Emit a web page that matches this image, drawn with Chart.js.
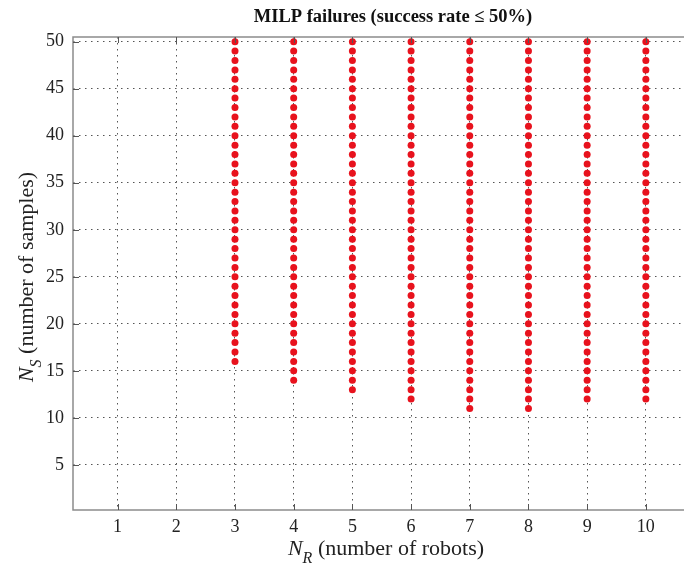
<!DOCTYPE html>
<html>
<head>
<meta charset="utf-8">
<script src="https://cdn.jsdelivr.net/npm/chart.js@4.4.1/dist/chart.umd.min.js"></script>
<style>
  body { margin: 0; background: #fff; overflow: hidden; }
  #wrap { width: 684px; height: 570px; }
</style>
</head>
<body>
<div id="wrap"><canvas id="failChart"></canvas></div>
<script>
// robot counts that have failures, and the smallest sample count that failed for each
const robots = [3, 4, 5, 6, 7, 8, 9, 10];
const minFailSamples = [16, 14, 13, 12, 11, 11, 12, 12];
const maxSamples = 50;
const xTicks = [1, 2, 3, 4, 5, 6, 7, 8, 9, 10];
const yTicks = [5, 10, 15, 20, 25, 30, 35, 40, 45, 50];

// every sample count from the lowest failure up to 50 failed
let points = [];
for (let i = 0; i < robots.length; i++) {
    for (let s = minFailSamples[i]; s <= maxSamples; s++) {
        points.push({ x: robots[i], y: s });
    }
}

const serif = '"Liberation Serif", "Times New Roman", serif';

const framePlugin = {
    id: 'frame',
    afterDraw(chart) {
        const ctx = chart.ctx;
        const a = chart.chartArea;
        const xs = chart.scales.x;
        const ys = chart.scales.y;
        ctx.save();

        // axes box (right side is cut off in the original)
        ctx.strokeStyle = '#8c8c8c';
        ctx.lineWidth = 1.5;
        ctx.beginPath();
        ctx.moveTo(a.right, a.top);
        ctx.lineTo(a.left, a.top);
        ctx.lineTo(a.left, a.bottom);
        ctx.lineTo(a.right, a.bottom);
        ctx.stroke();

        // inward tick marks
        ctx.strokeStyle = '#555';
        ctx.lineWidth = 1;
        ctx.beginPath();
        xTicks.forEach(t => {
            const px = Math.round(xs.getPixelForValue(t)) + 0.5;
            ctx.moveTo(px, a.bottom);
            ctx.lineTo(px, a.bottom - 6);
            ctx.moveTo(px, a.top);
            ctx.lineTo(px, a.top + 6);
        });
        yTicks.forEach(t => {
            const py = Math.round(ys.getPixelForValue(t)) + 0.5;
            ctx.moveTo(a.left, py);
            ctx.lineTo(a.left + 6, py);
        });
        ctx.stroke();

        // title
        ctx.fillStyle = '#111';
        ctx.font = 'bold 18.5px ' + serif;
        ctx.textAlign = 'center';
        ctx.textBaseline = 'middle';
        ctx.fillText('MILP failures (success rate \u2264 50%)', 393, 17);

        // x axis title: N_R (number of robots)
        drawSubLabel(ctx, 'N', 'R', ' (number of robots)', 386, 555);

        // y axis title: N_S (number of samples)
        ctx.save();
        ctx.translate(33, 277);
        ctx.rotate(-Math.PI / 2);
        drawSubLabel(ctx, 'N', 'S', ' (number of samples)', 0, 0);
        ctx.restore();

        ctx.restore();
    }
};

function drawSubLabel(ctx, main, sub, rest, cx, baseline) {
    const big = '22px ' + serif;
    const bigIt = 'italic 22px ' + serif;
    const subIt = 'italic 16px ' + serif;
    ctx.textBaseline = 'alphabetic';
    ctx.textAlign = 'left';
    ctx.font = bigIt;
    const w1 = ctx.measureText(main).width;
    ctx.font = subIt;
    const w2 = ctx.measureText(sub).width;
    ctx.font = big;
    const w3 = ctx.measureText(rest).width;
    let x = cx - (w1 + w2 + w3) / 2;
    ctx.fillStyle = '#222';
    ctx.font = bigIt;
    ctx.fillText(main, x, baseline);
    x += w1;
    ctx.font = subIt;
    ctx.fillText(sub, x, baseline + 8);
    x += w2;
    ctx.font = big;
    ctx.fillText(rest, x, baseline);
}

const gridStyle = {
    color: '#555',
    lineWidth: 1,
    drawTicks: false
};

new Chart(document.getElementById('failChart'), {
    type: 'scatter',
    data: {
        datasets: [{
            data: points,
            backgroundColor: '#e8121d',
            borderColor: '#e8121d',
            borderWidth: 0,
            pointRadius: 3.5,
            pointHoverRadius: 3.5
        }]
    },
    options: {
        responsive: true,
        maintainAspectRatio: false,
        animation: false,
        layout: { autoPadding: false, padding: { top: 37, left: 0, right: 0, bottom: 0 } },
        plugins: {
            legend: { display: false },
            tooltip: { enabled: false },
            title: { display: false }
        },
        scales: {
            x: {
                type: 'linear',
                min: 0.24,
                max: 10.65,
                afterBuildTicks: scale => { scale.ticks = xTicks.map(v => ({ value: v })); },
                afterFit: scale => { scale.height = 60; },
                grid: gridStyle,
                border: { display: false, dash: [1.5, 4.5] },
                ticks: {
                    padding: 6,
                    color: '#222',
                    font: { family: serif, size: 18 }
                }
            },
            y: {
                type: 'linear',
                min: 0.2,
                max: 50.5,
                afterBuildTicks: scale => { scale.ticks = yTicks.map(v => ({ value: v })); },
                afterFit: scale => { scale.width = 73; },
                grid: gridStyle,
                border: { display: false, dash: [1.5, 4.5] },
                ticks: {
                    padding: 9,
                    color: '#222',
                    font: { family: serif, size: 18 }
                }
            }
        }
    },
    plugins: [framePlugin]
});
</script>
</body>
</html>
